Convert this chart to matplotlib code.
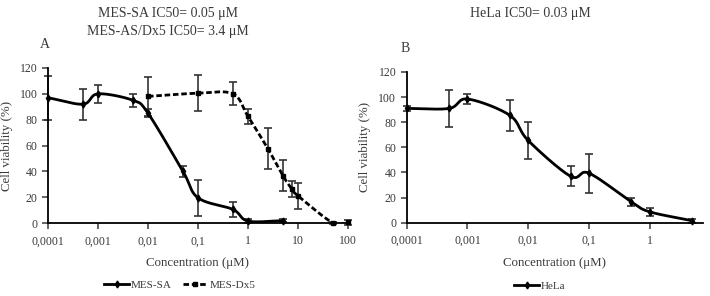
import numpy as np
import matplotlib
matplotlib.use("Agg")
import matplotlib.pyplot as plt

plt.rcParams["font.family"] = ["Liberation Serif", "DejaVu Serif"]
TEXT = "#3a3a3a"

# Panel A: MES-SA
sa_conc = [0.0001, 0.0005, 0.001, 0.005, 0.01, 0.05, 0.1, 0.5, 1, 5]
sa_viab = [97, 92, 100, 95, 85, 40, 19.5, 10.5, 1.5, 1.8]
sa_err = [17, 12, 7, 5, 3, 4, 14, 6, 1.5, 1]

# Panel A: MES-Dx5
dx_conc = [0.01, 0.1, 0.5, 1, 2.5, 5, 7.5, 10, 50, 100]
dx_viab = [98, 100.5, 100, 82.5, 57.5, 36.5, 26.5, 21, 0, 0.5]
dx_err = [15, 14, 9, 6, 16, 12, 6, 10, 0.5, 2]

# Panel B: HeLa
he_conc = [0.0001, 0.0005, 0.001, 0.005, 0.01, 0.05, 0.1, 0.5, 1, 5]
he_viab = [91, 91, 98.5, 85.5, 65.5, 37, 39.5, 16.6, 8.7, 1.6]
he_err = [2, 15, 4, 12.5, 15, 8, 15.5, 3, 3, 1.5]

xticks_a = [0.0001, 0.001, 0.01, 0.1, 1, 10, 100]
xticks_b = [0.0001, 0.001, 0.01, 0.1, 1]
xtick_labels = {0.0001: "0,0001", 0.001: "0,001", 0.01: "0,01", 0.1: "0,1",
                1: "1", 10: "10", 100: "100"}
yticks = [0, 20, 40, 60, 80, 100, 120]


def smooth(xs, ys, n=20):
    # Catmull-Rom through the points in log-x space (like Excel's smoothed line)
    lx = np.log10(xs)
    y = np.asarray(ys, float)
    px = np.concatenate([[2 * lx[0] - lx[1]], lx, [2 * lx[-1] - lx[-2]]])
    py = np.concatenate([[2 * y[0] - y[1]], y, [2 * y[-1] - y[-2]]])
    ox, oy = [], []
    t = np.linspace(0, 1, n, endpoint=False)
    for i in range(1, len(px) - 2):
        for arr, out in ((px, ox), (py, oy)):
            p0, p1, p2, p3 = arr[i - 1], arr[i], arr[i + 1], arr[i + 2]
            out.extend(0.5 * (2 * p1 + (-p0 + p2) * t
                              + (2 * p0 - 5 * p1 + 4 * p2 - p3) * t ** 2
                              + (-p0 + 3 * p1 - 3 * p2 + p3) * t ** 3))
    ox.append(lx[-1])
    oy.append(y[-1])
    return 10 ** np.array(ox), np.array(oy)


def style(ax, ticks, xmax):
    ax.set_xscale("log")
    ax.set_xlim(1e-4, xmax)
    ax.set_ylim(0, 120)
    ax.set_xticks(ticks)
    ax.set_xticklabels([xtick_labels[t] for t in ticks])
    ax.xaxis.set_minor_locator(matplotlib.ticker.NullLocator())
    ax.set_yticks(yticks)
    for s in ("top", "right"):
        ax.spines[s].set_visible(False)
    for s in ("left", "bottom"):
        ax.spines[s].set_linewidth(1.3)
    ax.tick_params(axis="both", labelsize=8.5, colors=TEXT, width=1.1,
                   length=4, direction="out")
    ax.tick_params(axis="x", pad=5)
    ax.set_xlabel("Concentration (μM)", fontsize=9.3, color=TEXT, labelpad=7)
    ax.set_ylabel("Cell viability (%)", fontsize=9.3, color=TEXT, labelpad=5)


def series(ax, conc, viab, err, ls, marker, label):
    sx, sy = smooth(conc, viab)
    ax.errorbar(conc, viab, yerr=err, fmt="none", ecolor="#333333",
                elinewidth=1.2, capsize=3, capthick=1.2, zorder=2,
                clip_on=False)
    ax.plot(sx, sy, color="black", lw=2, ls=ls, zorder=3)
    ax.plot(conc, viab, ls="none", marker=marker, ms=3.5, color="black",
            zorder=4, clip_on=False)
    return ax.plot([], [], color="black", lw=2, ls=ls, marker=marker,
                   ms=3.5, label=label)[0]


fig = plt.figure(figsize=(7.1, 2.96), dpi=100)

ax1 = fig.add_axes([48 / 710, 1 - 223 / 296, 300 / 710, 155 / 296])
h1 = series(ax1, sa_conc, sa_viab, sa_err, "-", "d", "MES-SA")
h2 = series(ax1, dx_conc, dx_viab, dx_err, (0, (2, 1)), "s", "MES-Dx5")
style(ax1, xticks_a, 100)

ax2 = fig.add_axes([406.7 / 710, 1 - 222.7 / 296, 296.3 / 710, 150.7 / 296])
h3 = series(ax2, he_conc, he_viab, he_err, "-", "d", "HeLa")
style(ax2, xticks_b, 10 ** 0.88)

fig.text(168 / 710, 1 - 14 / 296, "MES-SA IC50= 0.05 μM", ha="center",
         va="center", fontsize=10, color=TEXT)
fig.text(168 / 710, 1 - 31 / 296, "MES-AS/Dx5 IC50= 3.4 μM", ha="center",
         va="center", fontsize=10, color=TEXT)
fig.text(530 / 710, 1 - 14 / 296, "HeLa IC50= 0.03 μM", ha="center",
         va="center", fontsize=10, color=TEXT)
fig.text(45 / 710, 1 - 45 / 296, "A", ha="center", va="center",
         fontsize=10, color=TEXT)
fig.text(405 / 710, 1 - 48 / 296, "B", ha="center", va="center",
         fontsize=10, color=TEXT)

leg_kw = dict(frameon=False, fontsize=8, handlelength=2.2,
              handletextpad=0.2, columnspacing=1.0, labelcolor=TEXT)
fig.legend(handles=[h1, h2], loc="center", ncol=2,
           bbox_to_anchor=(180 / 710, 1 - 285 / 296), **leg_kw)
fig.legend(handles=[h3], loc="center",
           bbox_to_anchor=(540 / 710, 1 - 286 / 296), **leg_kw)

fig.savefig("out.png", dpi=100)
